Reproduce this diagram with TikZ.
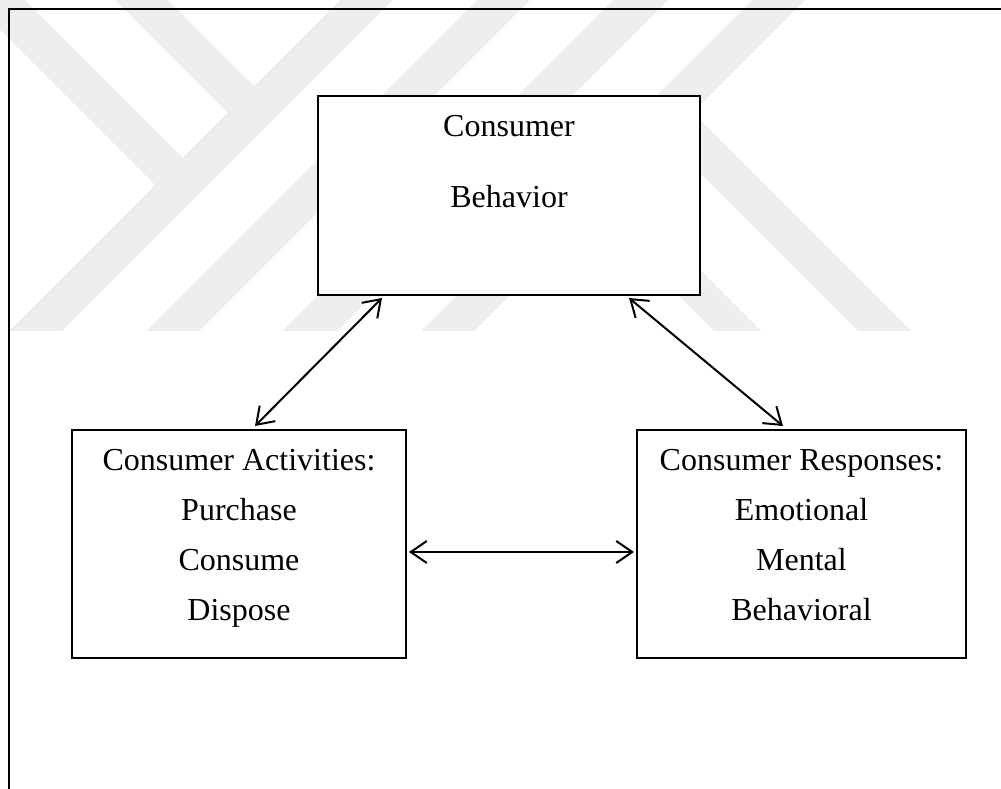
\documentclass[tikz,border=0pt]{standalone}
\usepackage{fontspec}
\setmainfont{Liberation Serif}
\usetikzlibrary{arrows.meta}
\definecolor{wmgray}{RGB}{238,238,238}
\begin{document}
\begin{tikzpicture}[x=1pt,y=-1pt,
  box/.style={draw,line width=2.2pt,fill=white,rectangle,inner sep=0pt,outer sep=0pt},
  lbl/.style={anchor=base,inner sep=0pt,font=\fontsize{32}{32}\selectfont},
  barb/.tip={Straight Barb[length=16pt,width=22pt,line width=2pt]},
  link/.style={line width=2pt,barb-barb},
  band/.style={fill=wmgray,draw=none}]
\useasboundingbox (0,0) rectangle (1001,789);

% background emblem made of diagonal stripes
\begin{scope}
  \clip (0,0) rectangle (1001,331);
  % slanted stripes
  \path[band] (340,0) -- (393,0) -- (62,331) -- (9,331) -- cycle;
  \path[band] (477,0) -- (530,0) -- (199,331) -- (146,331) -- cycle;
  \path[band] (613,0) -- (668,0) -- (337,331) -- (282,331) -- cycle;
  \path[band] (752,0) -- (805,0) -- (474,331) -- (421,331) -- cycle;
  % arms on the left
  \path[band] (-30,0) -- (25,0) -- (182.5,157.5) -- (155,185) -- cycle;
  \path[band] (115,0) -- (168,0) -- (254,86) -- (227.5,112.5) -- cycle;
  % legs on the right
  \path[band] (692.5,112.5) -- (911,331) -- (858,331) -- (666,139) -- cycle;
  \path[band] (617.5,187.5) -- (761,331) -- (714,331) -- (594,211) -- cycle;
\end{scope}

% frame
\draw[line width=2.2pt] (9,789) -- (9,9) -- (1001,9);

% boxes
\node[box,minimum width=382pt,minimum height=199pt] (behav) at (509,195.5) {};
\node[box,minimum width=334pt,minimum height=228pt] (activ) at (239,544) {};
\node[box,minimum width=329pt,minimum height=228pt] (resp) at (801.5,544) {};

% texts
\node[lbl] (t1) at (509,137) {Consumer};
\node[lbl] (t2) at (509,207) {Behavior};

\node[lbl] (a1) at (239,470) {Consumer Activities:};
\node[lbl] (a2) at (239,520) {Purchase};
\node[lbl] (a3) at (239,570) {Consume};
\node[lbl] (a4) at (239,620) {Dispose};

\node[lbl] (r1) at (801.5,470) {Consumer Responses:};
\node[lbl] (r2) at (801.5,520) {Emotional};
\node[lbl] (r3) at (801.5,570) {Mental};
\node[lbl] (r4) at (801.5,620) {Behavioral};

% connectors
\draw[link] ([xshift=64pt,yshift=-3pt]behav.south west) -- ([xshift=16pt,yshift=4pt]activ.north);
\draw[link] ([xshift=-71pt,yshift=-3pt]behav.south east) -- ([xshift=-18.5pt,yshift=4pt]resp.north);
\draw[link] ([xshift=3pt,yshift=-8pt]activ.east) -- ([xshift=-3pt,yshift=-8pt]resp.west);
\end{tikzpicture}
\end{document}
